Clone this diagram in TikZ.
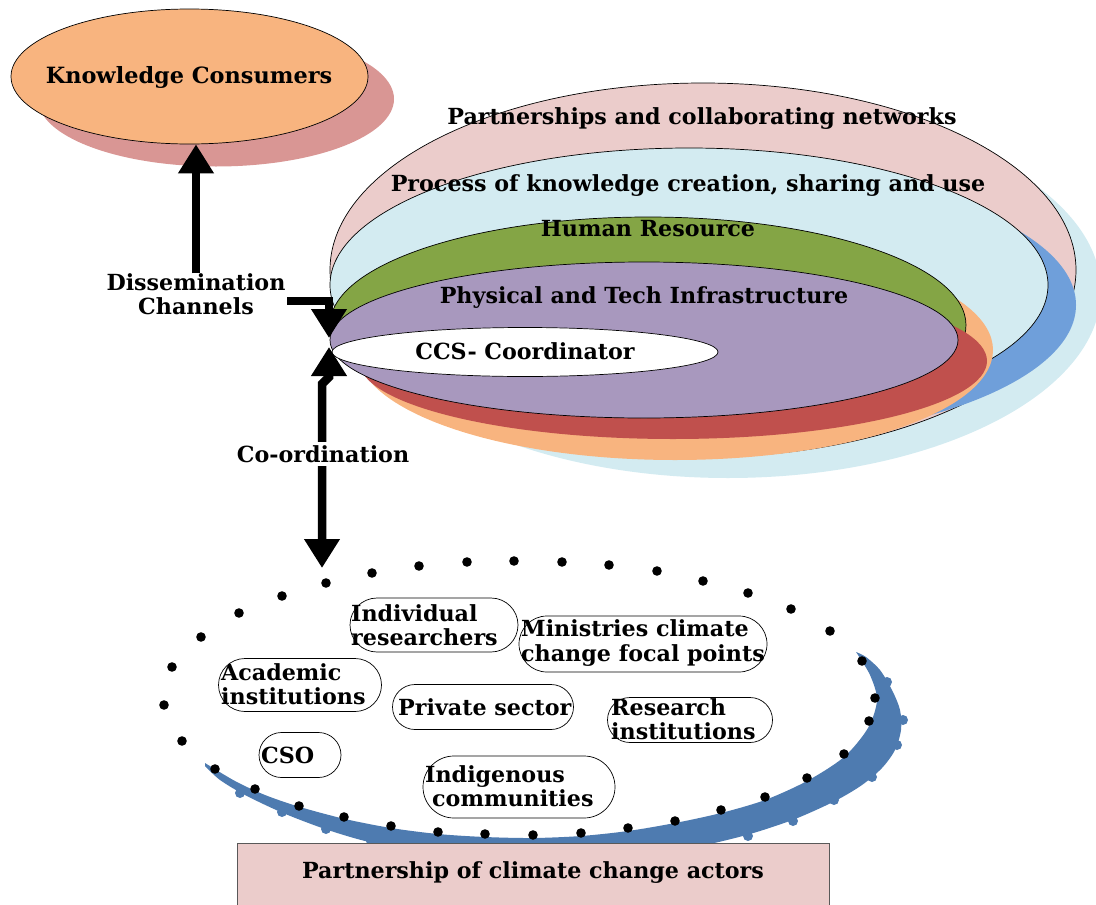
\documentclass[tikz,border=0pt]{standalone}
\usepackage{fontspec}
\setmainfont{DejaVu Serif}
\usetikzlibrary{shapes.geometric,shapes.misc,arrows.meta,calc}
\definecolor{kcfill}{HTML}{F8B47F}
\definecolor{kcshadow}{HTML}{D99694}
\definecolor{pinkc}{HTML}{EBCCCB}
\definecolor{lcyan}{HTML}{D3EBF1}
\definecolor{bluesh}{HTML}{6F9FDA}
\definecolor{greenc}{HTML}{84A545}
\definecolor{orangesh}{HTML}{F8B47F}
\definecolor{redsh}{HTML}{C0504D}
\definecolor{purplec}{HTML}{A898BE}
\definecolor{swooshc}{HTML}{4E7BB0}
\definecolor{boxborder}{HTML}{595959}
\tikzset{
  lbl/.style={font=\fontsize{22.2}{23.5}\selectfont\bfseries, inner sep=0pt, align=center},
  bigl/.style={font=\fontsize{22.4}{26}\selectfont\bfseries, inner sep=0pt},
  ring/.style={ellipse, draw=black, line width=0.7pt, inner sep=0pt},
  bigarrow/.style={line width=8.5pt, draw=black, line join=miter},
  tipA/.tip={Triangle[width=34pt,length=29pt]},
  actor/.style={rounded rectangle, draw=black, line width=0.7pt, inner sep=0pt},
  actlbl/.style={font=\fontsize{22.2}{24.5}\selectfont\bfseries, inner sep=0pt, align=left, anchor=west},
  dotc/.style={fill=black},
}
\begin{document}
\begin{tikzpicture}[x=1pt,y=-1pt]
\useasboundingbox (0,0) rectangle (1096,905);

% Knowledge consumers
\fill[kcshadow] (216,99) ellipse [x radius=178pt, y radius=67.5pt];
\node[ring, fill=kcfill, minimum width=357pt, minimum height=135pt] (kc) at (189.5,76.5) {};
\node[bigl] (kclbl) at (189,77) {Knowledge Consumers};

% Nested rings with shadows
\fill[lcyan] (728,291) ellipse [x radius=373pt, y radius=187pt];
\node[ring, fill=pinkc, minimum width=746pt, minimum height=374pt] (pcn) at (703,270) {};
\fill[bluesh] (717,305) ellipse [x radius=359pt, y radius=137pt];
\node[ring, fill=lcyan, minimum width=718pt, minimum height=274pt] (pkc) at (689,285) {};
\fill[orangesh] (675,350) ellipse [x radius=318pt, y radius=110pt];
\node[ring, fill=greenc, minimum width=636pt, minimum height=216pt] (hr) at (648,325) {};
\fill[redsh] (673,361) ellipse [x radius=314pt, y radius=78pt];
\node[ring, fill=purplec, minimum width=628pt, minimum height=156pt] (pti) at (644,340) {};
\node[ring, fill=white, minimum width=386pt, minimum height=49pt] (ccs) at (525,352) {};

\node[lbl] (lpcn) at (702,119) {Partnerships and collaborating networks};
\node[lbl] (lpkc) at (688,186) {Process of knowledge creation, sharing and use};
\node[lbl] (lhr) at (648,229) {Human Resource};
\node[lbl] (lpti) at (644,298) {Physical and Tech Infrastructure};
\node[lbl] (lccs) at (525,351) {CCS- Coordinator};

% Dissemination channels
\node[lbl] (dc) at (196,294) {Dissemination\\Channels};
\draw[bigarrow, -tipA] (dc.north) -- (dc.north |- kc.south);
\coordinate (dcs) at (287,301);
\coordinate (dcc) at (329,301);
\coordinate (dct) at (329,338);
\draw[bigarrow, -tipA] (dcs) -- (dcc) -- (dct);

% Co-ordination double arrow
\coordinate (cob) at (322,568);
\coordinate (coj1) at (322,384);
\coordinate (coj2) at (329,377);
\coordinate (cot) at (329,347);
\draw[bigarrow, tipA-tipA] (cob) -- (coj1) -- (coj2) -- (cot);
\node[lbl, fill=white, inner ysep=3pt] (co) at (323,454) {Co-ordination};

% Blue swoosh
\fill[swooshc] plot[smooth] coordinates {(205,763) (235,781) (265,795) (300,807) (345,819) (391,828) (438,834) (485,837) (533,838) (581,836) (628,831) (675,823) (721,813) (765,800) (807,781) (844,757) (868,728) (877,700) (870,675) (856,652)}
  -- plot[smooth] coordinates {(856,652) (866,657) (880,670) (892,690) (900,710) (901,730) (895,750) (882,768) (862,785) (835,801) (795,819) (750,834) (700,846) (640,855) (560,860) (480,858) (410,850) (365,841) (325,829) (283,813) (245,795) (220,780) (205,766)} -- cycle;
\foreach \p in {(887,682),(903,720),(897,745),(872,777),(834,800),(793,821),(748,836),(240,793),(282,812),(326,829),(371,841)}
  \fill[swooshc] \p circle[radius=5pt];

% Dotted ellipse
\foreach \p in {(326,583),(372,573),(419,566),(467,562),(514,561),(562,562),(609,565),(657,571),(703,581),(748,593),(791,609),(830,631),(862,661),(875,698),(869,721),(844,754),(807,778),(765,797),(721,810),(675,821),(628,828),(581,833),(533,835),(485,834),(438,832),(391,826),(344,817),(299,806),(255,789),(215,769),(182,741),(164,705),(172,667),(201,637),(239,613),(282,596)}
  \fill[dotc] \p circle[radius=4.8pt];

% Actors
\node[actor, minimum width=168pt, minimum height=54pt] (ir) at (434,625) {};
\node[actlbl] (irl) at (351,625) {Individual\\researchers};
\node[actor, minimum width=248pt, minimum height=56pt] (mcc) at (643,644) {};
\node[actlbl] (mccl) at (521,643) {Ministries climate\\change focal points};
\node[actor, minimum width=163pt, minimum height=53pt] (ai) at (300,685) {};
\node[actlbl] (ail) at (221,684) {Academic\\institutions};
\node[actor, minimum width=181pt, minimum height=45pt] (ps) at (483,707) {};
\node[actlbl] (psl) at (398,707) {Private sector};
\node[actor, minimum width=165pt, minimum height=45pt] (ri) at (690,720) {};
\node[actlbl] (ril) at (611,719) {Research\\institutions};
\node[actor, minimum width=82pt, minimum height=45pt] (cso) at (300,755) {};
\node[actlbl] (csol) at (261,755) {CSO};
\node[actor, minimum width=192pt, minimum height=62pt] (ic) at (519,787) {};
\node[actlbl] (icl) at (425,786) {Indigenous\\\hspace*{7pt}communities};

% Bottom box
\node[draw=boxborder, fill=pinkc, line width=0.8pt, minimum width=592pt, minimum height=66pt, inner sep=0pt, anchor=north west] (pca) at (237,843) {};
\node[lbl] (lpca) at (533,873) {Partnership of climate change actors};
\end{tikzpicture}
\end{document}
